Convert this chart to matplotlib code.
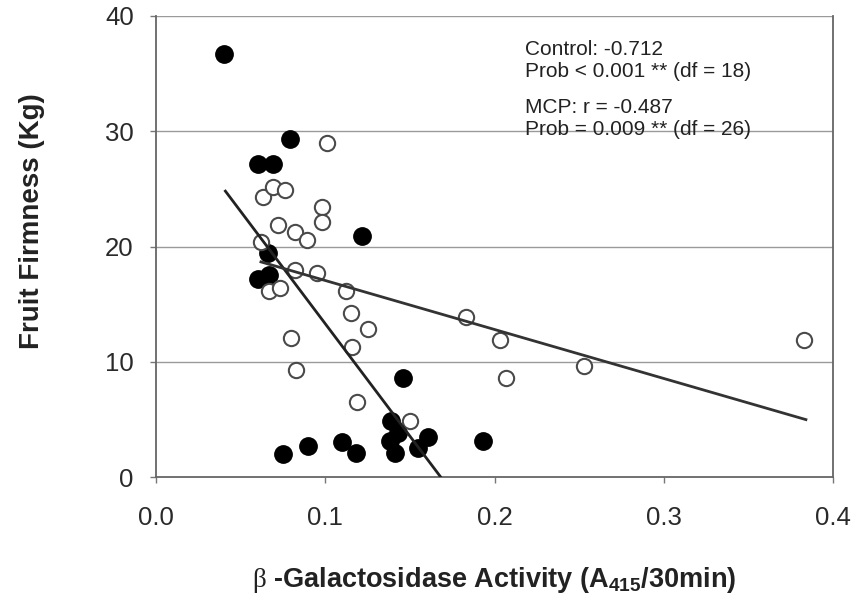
import matplotlib
matplotlib.use("Agg")
import matplotlib.pyplot as plt
import numpy as np

plt.rcParams['font.family'] = ['Liberation Sans', 'DejaVu Sans']
plt.rcParams['mathtext.fontset'] = 'custom'
plt.rcParams['mathtext.rm'] = 'Liberation Serif'
plt.rcParams['mathtext.bf'] = 'Liberation Sans:bold'

# Control (filled circles)
control_x = [0.040, 0.079, 0.060, 0.069, 0.122, 0.066, 0.060, 0.067, 0.146, 0.139,
             0.143, 0.138, 0.141, 0.161, 0.155, 0.075, 0.090, 0.110, 0.118, 0.193]
control_y = [36.7, 29.3, 27.2, 27.2, 20.9, 19.4, 17.2, 17.5, 8.6, 4.9,
             3.8, 3.1, 2.1, 3.5, 2.5, 2.0, 2.7, 3.0, 2.1, 3.1]

# MCP (open circles)
mcp_x = [0.101, 0.063, 0.069, 0.076, 0.098, 0.098, 0.072, 0.082, 0.089, 0.062,
         0.082, 0.095, 0.067, 0.073, 0.112, 0.115, 0.125, 0.080, 0.116, 0.083,
         0.119, 0.150, 0.183, 0.203, 0.207, 0.253, 0.383]
mcp_y = [29.0, 24.3, 25.2, 24.9, 23.4, 22.1, 21.9, 21.3, 20.6, 20.4,
         18.0, 17.7, 16.1, 16.4, 16.1, 14.2, 12.8, 12.1, 11.3, 9.3,
         6.5, 4.9, 13.9, 11.9, 8.6, 9.6, 11.9]

# Regression lines (intercept, slope) and x-range
control_fit = (32.8, -195.0)
control_range = [0.041, 0.168]
mcp_fit = (21.3, -42.5)
mcp_range = [0.062, 0.384]

x_ticks = [0.0, 0.1, 0.2, 0.3, 0.4]
x_ticklabels = ['0.0', '0.1', '0.2', '0.3', '0.4']
y_ticks = [0, 10, 20, 30, 40]

annot_control = "Control: -0.712\nProb < 0.001 ** (df = 18)"
annot_mcp = "MCP: r = -0.487\nProb = 0.009 ** (df = 26)"

fig = plt.figure(figsize=(8.6, 6.01), dpi=100)
ax = fig.add_axes([0.1814, 0.2063, 0.9686 - 0.1814, 0.9734 - 0.2063])

ax.set_xlim(0, 0.4)
ax.set_ylim(0, 40)

for yv in [10, 20, 30, 40]:
    ax.axhline(yv, color='#9a9a9a', lw=1.0, zorder=0)

ax.plot(control_x, control_y, 'o', ms=12.5, mfc='black', mec='black', mew=1.0, zorder=2, ls='none')
ax.plot(mcp_x, mcp_y, 'o', ms=11, mfc='white', mec='#4a4a4a', mew=1.5, zorder=3, ls='none')

cx = np.array(control_range)
ax.plot(cx, control_fit[0] + control_fit[1] * cx, color='#222222', lw=2.0, zorder=4)
mx = np.array(mcp_range)
ax.plot(mx, mcp_fit[0] + mcp_fit[1] * mx, color='#333333', lw=2.0, zorder=4)

ax.set_xticks(x_ticks)
ax.set_xticklabels(x_ticklabels)
ax.set_yticks(y_ticks)
ax.tick_params(axis='both', labelsize=18.5, labelcolor='#2a2a2a', color='#777777', length=4, width=1)
ax.tick_params(axis='x', pad=17)
ax.tick_params(axis='y', pad=12)

for s in ['left', 'bottom', 'right']:
    ax.spines[s].set_color('#666666')
    ax.spines[s].set_linewidth(1.3)
ax.spines['top'].set_visible(False)

ax.set_ylabel('Fruit Firmness (Kg)', fontsize=20, fontweight='bold', color='#222222')
ax.yaxis.set_label_coords(-0.164, 0.555)
ax.set_xlabel('$\\mathrm{β}$ -Galactosidase Activity (A$_{\\mathbf{415}}$/30min)', fontsize=19.5,
              fontweight='bold', color='#222222')
ax.xaxis.set_label_coords(0.5, -0.19)

ax.text(0.218, 37.9, annot_control, fontsize=15, color='#222222', va='top', ha='left', linespacing=1.2)
ax.text(0.218, 32.9, annot_mcp, fontsize=15, color='#222222', va='top', ha='left', linespacing=1.2)

fig.savefig('out.png', dpi=100)
